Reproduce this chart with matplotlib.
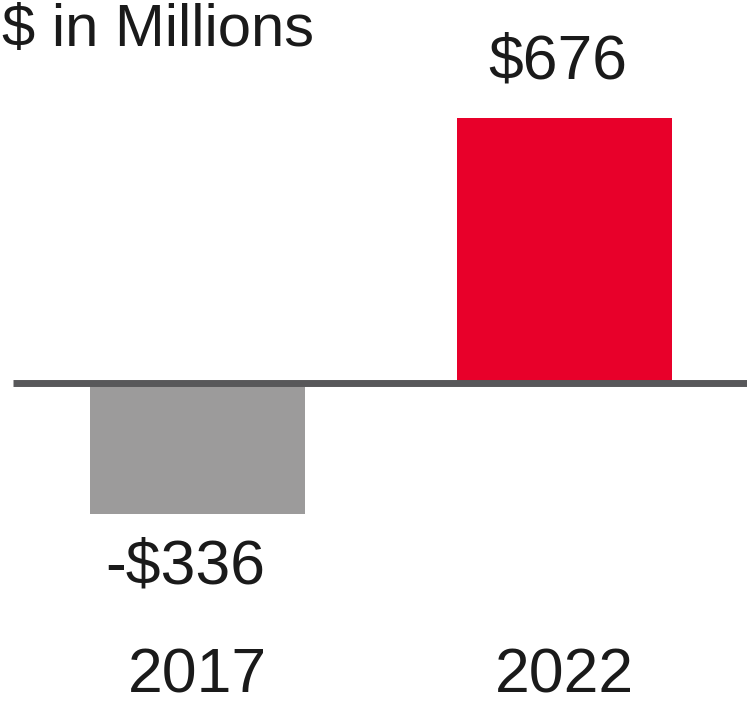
import matplotlib.pyplot as plt

# data
years  = ["2017", "2022"]
values = [-336, 676]
labels = ["-$336", "$676"]
colors = ["#9c9b9b", "#e8002a"]

plt.rcParams['font.family'] = ['Liberation Sans', 'DejaVu Sans']

fig = plt.figure(figsize=(7.47, 7.10), dpi=100)
ax = fig.add_axes([0, 0, 1, 1])

# pixel scale: bar centres 197 / 564 px, baseline at 382 px from top
px_per_unit = 264.5 / 676.
x_step = 367.
ax.set_xlim(-197. / x_step, (747. - 197.) / x_step)
ax.set_ylim(-(710. - 382.5) / px_per_unit, 382.5 / px_per_unit)

xs = [0, 1]
ax.bar(xs, values, width=215. / x_step, color=colors, zorder=1)
ax.axhline(0, xmin=13. / 747, xmax=1, color="#58585a", lw=5.0,
           solid_capstyle="butt", zorder=3)

# value labels
for x, v, lab in zip(xs, values, labels):
    if v >= 0:
        ax.annotate(lab, (x, v), xytext=(-4.5, 40), textcoords="offset points",
                    ha="center", va="center", fontsize=45, color="#1a1a1a")
    else:
        ax.annotate(lab, (x, v), xytext=(-8.5, -38), textcoords="offset points",
                    ha="center", va="center", fontsize=45, color="#1a1a1a")

# year labels
for x, y in zip(xs, years):
    ax.text(x, 1 - 676. / 710, y, transform=ax.get_xaxis_transform(),
            ha="center", va="center", fontsize=45, color="#1a1a1a")

fig.text(2. / 747, 1 - 30. / 710, "$ in Millions", ha="left", va="center",
         fontsize=43, color="#1a1a1a")

ax.axis("off")
fig.savefig("out.png", dpi=100)
